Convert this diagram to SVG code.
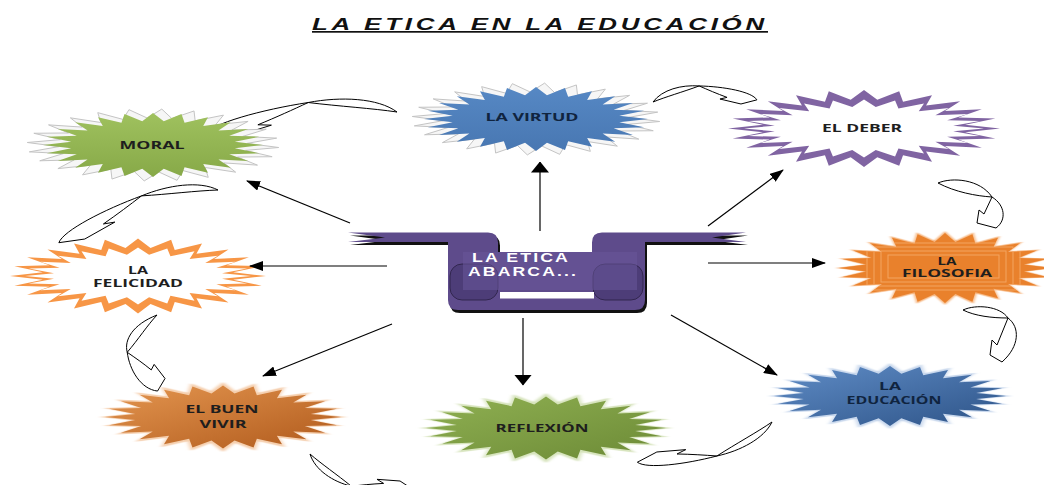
<svg xmlns="http://www.w3.org/2000/svg" xmlns:xlink="http://www.w3.org/1999/xlink" width="1044" height="485" viewBox="0 0 1044 485">
<style>
.lbl{font-family:"Open Sans","Liberation Sans",sans-serif;font-weight:700;font-size:10.5px;text-anchor:middle;fill:#1e1e1e}
.navy{fill:#10243f}
.conn line{stroke:#000;stroke-width:1.2}
.ca{fill:#fff;stroke:#000;stroke-width:1}
</style>
<defs>
<polygon id="star" vector-effect="non-scaling-stroke" points="100,0 74.36,9.79 96.59,25.88 69.29,28.7 86.6,50 59.5,45.66 70.71,70.71 45.66,59.5 50,86.6 28.7,69.29 25.88,96.59 9.79,74.36 0,100 -9.79,74.36 -25.88,96.59 -28.7,69.29 -50,86.6 -45.66,59.5 -70.71,70.71 -59.5,45.66 -86.6,50 -69.29,28.7 -96.59,25.88 -74.36,9.79 -100,0 -74.36,-9.79 -96.59,-25.88 -69.29,-28.7 -86.6,-50 -59.5,-45.66 -70.71,-70.71 -45.66,-59.5 -50,-86.6 -28.7,-69.29 -25.88,-96.59 -9.79,-74.36 0,-100 9.79,-74.36 25.88,-96.59 28.7,-69.29 50,-86.6 45.66,-59.5 70.71,-70.71 59.5,-45.66 86.6,-50 69.29,-28.7 96.59,-25.88 74.36,-9.79"/>
<path id="carrow" vector-effect="non-scaling-stroke" d="M0,0 C10,-14 32,-20 52,-19 C80,-19 112,-14 118,-5 L100,0 L76,-5 L84,-7 C72,-11 62,-15 52,-19 C34,-12 14,-6 0,0 Z"/>
<marker id="ah" markerUnits="userSpaceOnUse" viewBox="0 0 14 10" refX="13" refY="5" markerWidth="14" markerHeight="10" orient="auto"><path d="M0,0 L14,5 L0,10 z" fill="#000"/></marker>
<marker id="ahb" markerUnits="userSpaceOnUse" viewBox="0 0 11 18" refX="10.5" refY="9" markerWidth="11" markerHeight="18" orient="auto"><path d="M0,0 L11,9 L0,18 z" fill="#000"/></marker>
<linearGradient id="gGreen" x1="0" y1="0" x2="0" y2="1"><stop offset="0" stop-color="#9fc15e"/><stop offset="1" stop-color="#87a948"/></linearGradient>
<linearGradient id="gBlue" x1="0" y1="0" x2="0" y2="1"><stop offset="0" stop-color="#5688c4"/><stop offset="1" stop-color="#4877b2"/></linearGradient>
<linearGradient id="gBrown" x1="0" y1="0" x2="1" y2="1"><stop offset="0" stop-color="#e49650"/><stop offset="1" stop-color="#b05a1c"/></linearGradient>
<linearGradient id="gOlive" x1="0" y1="0" x2="1" y2="1"><stop offset="0" stop-color="#8fb052"/><stop offset="1" stop-color="#6c8a36"/></linearGradient>
<linearGradient id="gNavy" x1="0" y1="0" x2="1" y2="1"><stop offset="0" stop-color="#5f8cc6"/><stop offset="1" stop-color="#2d5387"/></linearGradient>
<filter id="blur" x="-10%" y="-20%" width="120%" height="140%"><feGaussianBlur stdDeviation="1.6"/></filter>
<clipPath id="clipFilo"><use xlink:href="#star" transform="translate(945,268) scale(1.06,0.35)"/></clipPath>
</defs>
<rect width="1044" height="485" fill="#fff"/>

<text x="540" y="30" text-anchor="middle" font-family="Liberation Sans, Arial, sans-serif" font-weight="700" font-style="italic" font-size="17" letter-spacing="2.5" textLength="456" lengthAdjust="spacingAndGlyphs" text-decoration="underline" fill="#111">LA ETICA EN LA EDUCACIÓN</text>

<g id="curved-arrows">
<use xlink:href="#carrow" class="ca" transform="translate(653,102) rotate(1.3) scale(0.88,0.9)"/>
<path class="ca" d="M938,183 C952,177 980,179 992,197 C1005,205 1007,220 996,228 L977,223 L979,210 L984,214 L992,197 C976,196 955,192 938,183 Z"/>
<path class="ca" d="M963,310 C976,304 1000,306 1008,318 C1020,327 1020,346 1002,362 L990,355 L992,340 L997,345 L1008,318 C992,318 975,316 963,310 Z"/>
<use xlink:href="#carrow" class="ca" transform="translate(772,422) rotate(165.4) scale(1.19,1.0)"/>
<use xlink:href="#carrow" class="ca" transform="translate(310,454) rotate(16.7) scale(0.94,-1.0)"/>
<use xlink:href="#carrow" class="ca" transform="translate(157,315) rotate(82.8) scale(0.64,-1.8)"/>
<use xlink:href="#carrow" class="ca" transform="translate(218,190) rotate(159.8) scale(1.42,-1.1)"/>
<use xlink:href="#carrow" class="ca" transform="translate(397,112) rotate(171.3) scale(1.66,-1.2)"/>
</g>

<g id="node-moral">
<use xlink:href="#star" transform="translate(153,145) scale(1.26,0.36) rotate(4)" fill="#f6f6f6" stroke="#c4c4c4" stroke-width="1"/>
<use xlink:href="#star" transform="translate(153,145) scale(1.1,0.32)" fill="url(#gGreen)"/>
<text class="lbl" x="152" y="149" textLength="65" lengthAdjust="spacingAndGlyphs">MORAL</text>
</g>

<g id="node-virtud">
<use xlink:href="#star" transform="translate(536,119) scale(1.24,0.36) rotate(4)" fill="#f6f6f6" stroke="#c4c4c4" stroke-width="1"/>
<use xlink:href="#star" transform="translate(536,119) scale(1.12,0.32)" fill="url(#gBlue)"/>
<text class="lbl navy" x="532" y="121" textLength="93" lengthAdjust="spacingAndGlyphs">LA VIRTUD</text>
</g>

<g id="node-deber">
<use xlink:href="#star" transform="translate(864,128.5) scale(1.36,0.385)" fill="#8064a2"/>
<use xlink:href="#star" transform="translate(864,128.5) scale(1.2,0.29)" fill="#fff"/>
<text class="lbl" x="862" y="132" textLength="80" lengthAdjust="spacingAndGlyphs">EL DEBER</text>
</g>

<g id="node-felicidad">
<use xlink:href="#star" transform="translate(138,276) scale(1.28,0.375)" fill="#f79646"/>
<use xlink:href="#star" transform="translate(138,276) scale(1.13,0.285)" fill="#fff"/>
<text class="lbl" x="138" y="274" textLength="20" lengthAdjust="spacingAndGlyphs">LA</text>
<text class="lbl" x="138" y="287" textLength="90" lengthAdjust="spacingAndGlyphs">FELICIDAD</text>
</g>

<g id="node-filosofia">
<use xlink:href="#star" transform="translate(945,268) scale(1.1,0.37)" fill="#f6b680" filter="url(#blur)"/>
<use xlink:href="#star" transform="translate(945,268) scale(1.06,0.35)" fill="#e9812c"/>
<g clip-path="url(#clipFilo)" fill="none" stroke="#f3a561" stroke-width="1">
<rect x="867" y="243" width="153" height="47"/>
<rect x="874" y="247" width="139" height="39"/>
<rect x="881" y="251" width="125" height="31"/>
<rect x="888" y="255" width="111" height="23"/>
</g>
<text class="lbl" x="947" y="265" textLength="19" lengthAdjust="spacingAndGlyphs">LA</text>
<text class="lbl" x="947" y="277" textLength="90" lengthAdjust="spacingAndGlyphs">FILOSOFIA</text>
</g>

<g id="node-buenvivir">
<use xlink:href="#star" transform="translate(223,417) scale(1.24,0.35)" fill="#f5cfae" filter="url(#blur)"/>
<use xlink:href="#star" transform="translate(223,417) scale(1.18,0.315)" fill="url(#gBrown)"/>
<text class="lbl" x="222" y="413" textLength="73" lengthAdjust="spacingAndGlyphs" fill="#2a1505">EL BUEN</text>
<text class="lbl" x="223" y="428" textLength="47" lengthAdjust="spacingAndGlyphs" fill="#2a1505">VIVIR</text>
</g>

<g id="node-reflexion">
<use xlink:href="#star" transform="translate(546,428) scale(1.27,0.35)" fill="#d7e4bd" filter="url(#blur)"/>
<use xlink:href="#star" transform="translate(546,428) scale(1.2,0.315)" fill="url(#gOlive)"/>
<text class="lbl" x="542" y="432" textLength="93" lengthAdjust="spacingAndGlyphs" fill="#1c2610">REFLEXIÓN</text>
</g>

<g id="node-educacion">
<use xlink:href="#star" transform="translate(890,396) scale(1.22,0.33)" fill="#c6d6ec" filter="url(#blur)"/>
<use xlink:href="#star" transform="translate(890,396) scale(1.16,0.3)" fill="url(#gNavy)"/>
<text class="lbl navy" x="890" y="390" textLength="22" lengthAdjust="spacingAndGlyphs">LA</text>
<text class="lbl navy" x="894" y="404" textLength="95" lengthAdjust="spacingAndGlyphs">EDUCACIÓN</text>
</g>

<g id="center">
<path d="M348,232.5 L488,232.5 Q498,232.5 498,242.5 L498,252 L592,252 L592,242.5 Q592,232.5 602,232.5 L746,232.5 L712,237.5 L746,242 L645,242 L645,300 Q645,310 635,310 L458,310 Q448,310 448,300 L448,242 L348,242 L385,237.5 Z" fill="#111" transform="translate(2,3)"/>
<path d="M348,232.5 L488,232.5 Q498,232.5 498,242.5 L498,252 L592,252 L592,242.5 Q592,232.5 602,232.5 L746,232.5 L712,237.5 L746,242 L645,242 L645,300 Q645,310 635,310 L458,310 Q448,310 448,300 L448,242 L348,242 L385,237.5 Z" fill="#5e4b8b"/>
<rect x="450" y="264" width="48" height="36" rx="12" fill="#4d3d78" stroke="#2a2042" stroke-width="0.8"/>
<rect x="593" y="264" width="50" height="36" rx="12" fill="#4d3d78" stroke="#2a2042" stroke-width="0.8"/>
<rect x="463" y="252" width="174" height="38" fill="#6a579a" opacity="0.55"/>
<rect x="500" y="292" width="94" height="6.5" fill="#fff"/>
<text x="472" y="262" font-family="Liberation Sans, Arial, sans-serif" font-weight="700" font-size="12.5" letter-spacing="1.5" fill="#fff" textLength="98" lengthAdjust="spacingAndGlyphs">LA ETICA</text>
<text x="468" y="275.5" font-family="Liberation Sans, Arial, sans-serif" font-weight="700" font-size="12.5" letter-spacing="1.5" fill="#fff" textLength="110" lengthAdjust="spacingAndGlyphs">ABARCA...</text>
</g>

<g id="connectors" class="conn">
<line x1="540" y1="231" x2="540" y2="162" stroke-width="1.8" marker-end="url(#ahb)"/>
<line x1="350" y1="223" x2="247" y2="181" marker-end="url(#ah)"/>
<line x1="387" y1="266" x2="250" y2="266" marker-end="url(#ah)"/>
<line x1="392" y1="324" x2="263" y2="376" marker-end="url(#ah)"/>
<line x1="523" y1="318" x2="523" y2="385" stroke-width="1.8" marker-end="url(#ahb)"/>
<line x1="671" y1="315" x2="777" y2="375" marker-end="url(#ah)"/>
<line x1="708" y1="263" x2="825" y2="263" marker-end="url(#ah)"/>
<line x1="708" y1="226" x2="783" y2="170" marker-end="url(#ah)"/>
</g>
</svg>
